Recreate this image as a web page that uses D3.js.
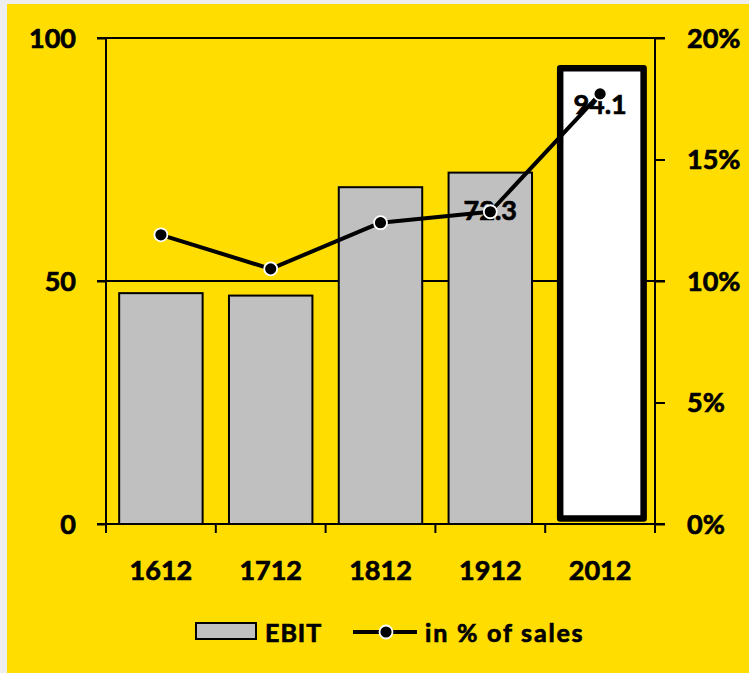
<!DOCTYPE html>
<html>
<head>
<meta charset="utf-8">
<script src="https://cdn.jsdelivr.net/npm/d3@7"></script>
<style>
  html, body { margin: 0; padding: 0; background: #eeeeee; }
  svg { display: block; }
  text { font-family: Lato, "Open Sans", sans-serif; font-weight: bold; fill: #000; stroke: #000; stroke-width: 0.7px; }
</style>
</head>
<body>
<script>
// Periods (fiscal year ends)
const categories = ["1612", "1712", "1812", "1912", "2012"];
// EBIT values (left axis)
const ebit = [47.5, 47.0, 69.3, 72.3, 94.1];
// EBIT margin in % of sales (right axis)
const margin = [11.9, 10.5, 12.4, 12.85, 17.7];
// Labelled bars
const labelled = [false, false, false, true, true];
// Tick values
const leftTicks = [0, 50, 100];
const rightTicks = [0, 5, 10, 15, 20];

const W = 749, H = 673;
const plot = { left: 106, right: 655, top: 38, bottom: 524 };

const svg = d3.select("body").append("svg")
  .attr("width", W).attr("height", H);

// yellow panel
svg.append("rect")
  .attr("x", 7).attr("y", 4).attr("width", W - 7).attr("height", H - 4)
  .attr("fill", "#FFDD00");

const x = d3.scaleBand().domain(categories).range([plot.left, plot.right]).paddingInner(0.24).paddingOuter(0.12);
const xOuter = d3.scaleBand().domain(categories).range([plot.left, plot.right]);
const yL = d3.scaleLinear().domain([0, 100]).range([plot.bottom, plot.top]);
const yR = d3.scaleLinear().domain([0, 20]).range([plot.bottom, plot.top]);

// horizontal gridlines at left-axis ticks (extend as tick marks on both sides)
svg.append("g").selectAll("line").data(leftTicks).join("line")
  .attr("x1", plot.left - 9).attr("x2", plot.right + 10)
  .attr("y1", d => yL(d)).attr("y2", d => yL(d))
  .attr("stroke", "#000").attr("stroke-width", 2);

// left axis
const leftAxis = svg.append("g").attr("transform", `translate(${plot.left},0)`)
  .call(d3.axisLeft(yL).tickValues(leftTicks).tickSize(9).tickPadding(21));
leftAxis.select(".domain").remove();
leftAxis.selectAll(".tick line").attr("stroke-width", 2);
leftAxis.selectAll("text").attr("font-size", 27).attr("dy", "0.35em");
svg.append("line")
  .attr("x1", plot.left).attr("x2", plot.left)
  .attr("y1", plot.top).attr("y2", plot.bottom + 9)
  .attr("stroke", "#000").attr("stroke-width", 2);

// right axis
const rightAxis = svg.append("g").attr("transform", `translate(${plot.right},0)`)
  .call(d3.axisRight(yR).tickValues(rightTicks).tickSize(10).tickPadding(22).tickFormat(d => d + "%"));
rightAxis.select(".domain").remove();
rightAxis.selectAll(".tick line").attr("stroke-width", 2);
rightAxis.selectAll("text").attr("font-size", 27).attr("dy", "0.35em");
svg.append("line")
  .attr("x1", plot.right).attr("x2", plot.right)
  .attr("y1", plot.top).attr("y2", plot.bottom + 9)
  .attr("stroke", "#000").attr("stroke-width", 2);

// category axis: ticks at band boundaries
const bounds = categories.map(c => xOuter(c)).concat([plot.right]);
svg.append("g").selectAll("line").data(bounds).join("line")
  .attr("x1", d => d).attr("x2", d => d)
  .attr("y1", plot.bottom).attr("y2", plot.bottom + 9)
  .attr("stroke", "#000").attr("stroke-width", 2);
svg.append("g").selectAll("text").data(categories).join("text")
  .attr("x", d => xOuter(d) + xOuter.bandwidth() / 2)
  .attr("y", 580)
  .attr("text-anchor", "middle")
  .attr("font-size", 27)
  .text(d => d);

// bars (the latest period is highlighted with a white fill and heavy outline)
const last = categories.length - 1;
svg.append("g").selectAll("rect").data(categories).join("rect")
  .attr("x", (d, i) => i === last ? x(d) + 1.8 : x(d))
  .attr("width", x.bandwidth())
  .attr("y", (d, i) => yL(ebit[i]) + (i === last ? 1.5 : 0))
  .attr("height", (d, i) => yL(0) - yL(ebit[i]) - (i === last ? 7 : 0))
  .attr("fill", (d, i) => i === last ? "#ffffff" : "#c0c0c0")
  .attr("stroke", "#000")
  .attr("stroke-width", (d, i) => i === last ? 6.5 : 2)
  .attr("stroke-linejoin", (d, i) => i === last ? "round" : "miter");

// margin line
const cx = c => xOuter(c) + xOuter.bandwidth() / 2;
const line = d3.line().x((d, i) => cx(categories[i])).y(d => yR(d));
svg.append("path").datum(margin)
  .attr("d", line)
  .attr("fill", "none").attr("stroke", "#000").attr("stroke-width", 4)
  .attr("stroke-linejoin", "round");

// value labels
svg.append("g").selectAll("text").data(categories.filter((c, i) => labelled[i])).join("text")
  .attr("x", d => cx(d))
  .attr("y", d => yL(ebit[categories.indexOf(d)]) + 47)
  .attr("text-anchor", "middle")
  .attr("font-size", 27)
  .text(d => ebit[categories.indexOf(d)].toFixed(1));

// markers
svg.append("g").selectAll("circle").data(margin).join("circle")
  .attr("cx", (d, i) => cx(categories[i]))
  .attr("cy", d => yR(d))
  .attr("r", 6.5)
  .attr("fill", "#000").attr("stroke", "#fff").attr("stroke-width", 1.8);

// legend
const lg = svg.append("g");
lg.append("rect").attr("x", 196).attr("y", 623).attr("width", 60).attr("height", 16)
  .attr("fill", "#c0c0c0").attr("stroke", "#000").attr("stroke-width", 2);
lg.append("text").attr("x", 265).attr("y", 642).attr("font-size", 25)
  .attr("letter-spacing", 1).text("EBIT");
lg.append("line").attr("x1", 353).attr("x2", 417).attr("y1", 632).attr("y2", 632)
  .attr("stroke", "#000").attr("stroke-width", 4);
lg.append("circle").attr("cx", 386).attr("cy", 632).attr("r", 6.5)
  .attr("fill", "#000").attr("stroke", "#fff").attr("stroke-width", 1.8);
lg.append("text").attr("x", 425).attr("y", 642).attr("font-size", 25)
  .attr("letter-spacing", 1.8).text("in % of sales");
</script>
</body>
</html>
